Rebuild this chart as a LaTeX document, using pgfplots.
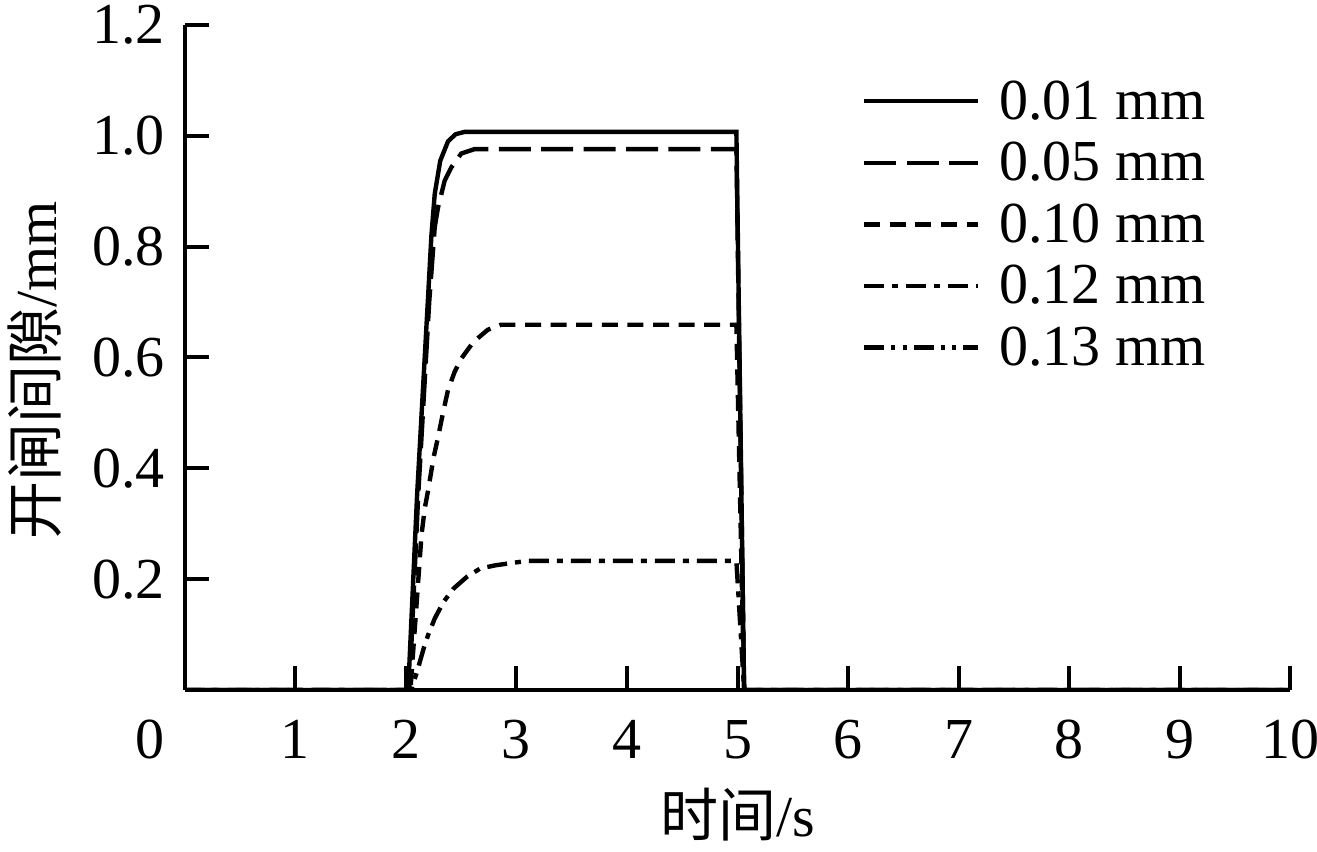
\documentclass[border=0pt]{standalone}
\usepackage{pgfplots}
\pgfplotsset{compat=1.18}
\usepackage{fontspec}
\setmainfont{Liberation Serif}
\newfontfamily\cjk{Noto Sans CJK SC}
\newcommand{\fs}{\fontsize{14.5pt}{17pt}\selectfont}
\begin{document}
\begin{tikzpicture}
\begin{axis}[
  scale only axis,
  width=276.25pt, height=166.25pt,
  xmin=0, xmax=10, ymin=0, ymax=1.2,
  axis lines*=left,
  axis line style={line width=1pt},
  tick align=inside,
  major tick length=6pt,
  tick style={line width=1pt, black},
  xtick={1,2,...,10},
  extra x ticks={0},
  extra x tick style={major tick length=0pt, xticklabel style={xshift=-8.75pt}},
  ytick={0.2,0.4,0.6,0.8,1.0,1.2},
  /pgf/number format/assume math mode=true,
  tick label style={font=\fs},
  xticklabel style={yshift=-4pt},
  yticklabel style={xshift=-1.5pt, /pgf/number format/fixed, /pgf/number format/fixed zerofill, /pgf/number format/precision=1},
  every axis y label/.style={at={(axis description cs:-0.136,0.48)}, rotate=90, anchor=center},
  every axis x label/.style={at={(axis description cs:0.5,-0.188)}, anchor=center},
  label style={font=\fs},
  xlabel={{\cjk 时间}/s},
  ylabel={{\cjk 开闸间隙}/mm},
  legend style={at={(rel axis cs:0.601,0.945)}, anchor=north west, draw=none, fill=none,
    font=\fs, row sep=0pt,
    nodes={inner sep=2.2pt, text height=10pt, text depth=1pt},
    /tikz/column 1/.style={column sep=2.5pt}},
  legend cell align=left,
  legend image code/.code={\draw[#1] (0pt,0pt) -- (28.5pt,0pt);},
  every axis plot/.append style={line width=1.1pt, black},
]
\addplot[solid] coordinates {
(0,0) (2.02,0) (2.10,0.35) (2.20,0.71) (2.23,0.82) (2.26,0.895) (2.31,0.955) (2.38,0.99) (2.45,1.003) (2.53,1.007) (4.99,1.007) (5.06,0) (10,0)};
\addlegendentry{0.01 mm}
\addplot[dash pattern=on 8pt off 2.6pt] coordinates {
(0,0) (2.03,0) (2.11,0.35) (2.21,0.70) (2.26,0.835) (2.29,0.871) (2.35,0.919) (2.41,0.943) (2.50,0.968) (2.62,0.976) (4.99,0.976) (5.06,0) (10,0)};
\addlegendentry{0.05 mm}
\addplot[dash pattern=on 4pt off 2.4pt] coordinates {
(0,0) (2.04,0) (2.14,0.279) (2.17,0.328) (2.20,0.36) (2.25,0.42) (2.29,0.456) (2.34,0.505) (2.38,0.541) (2.44,0.574) (2.50,0.598) (2.61,0.628) (2.74,0.650) (2.86,0.659) (4.99,0.659) (5.06,0) (10,0)};
\addlegendentry{0.10 mm}
\addplot[dash pattern=on 5pt off 2pt on 1.5pt off 2pt] coordinates {
(0,0) (2.05,0) (2.06,0.009) (2.10,0.033) (2.16,0.075) (2.20,0.099) (2.26,0.129) (2.34,0.159) (2.43,0.183) (2.55,0.204) (2.67,0.219) (2.81,0.225) (2.95,0.229) (3.10,0.233) (4.99,0.233) (5.06,0) (10,0)};
\addlegendentry{0.12 mm}
\addplot[dash pattern=on 5pt off 1.8pt on 1pt off 1.8pt on 1pt off 1.8pt] coordinates {
(0,0) (10,0)};
\addlegendentry{0.13 mm}
\coordinate (O) at (rel axis cs:0,0);
\end{axis}
\pgfresetboundingbox
\path[use as bounding box] ([shift={(-46.25pt,-40.5pt)}]O) rectangle ([shift={(283pt,172.5pt)}]O);
\end{tikzpicture}
\end{document}
